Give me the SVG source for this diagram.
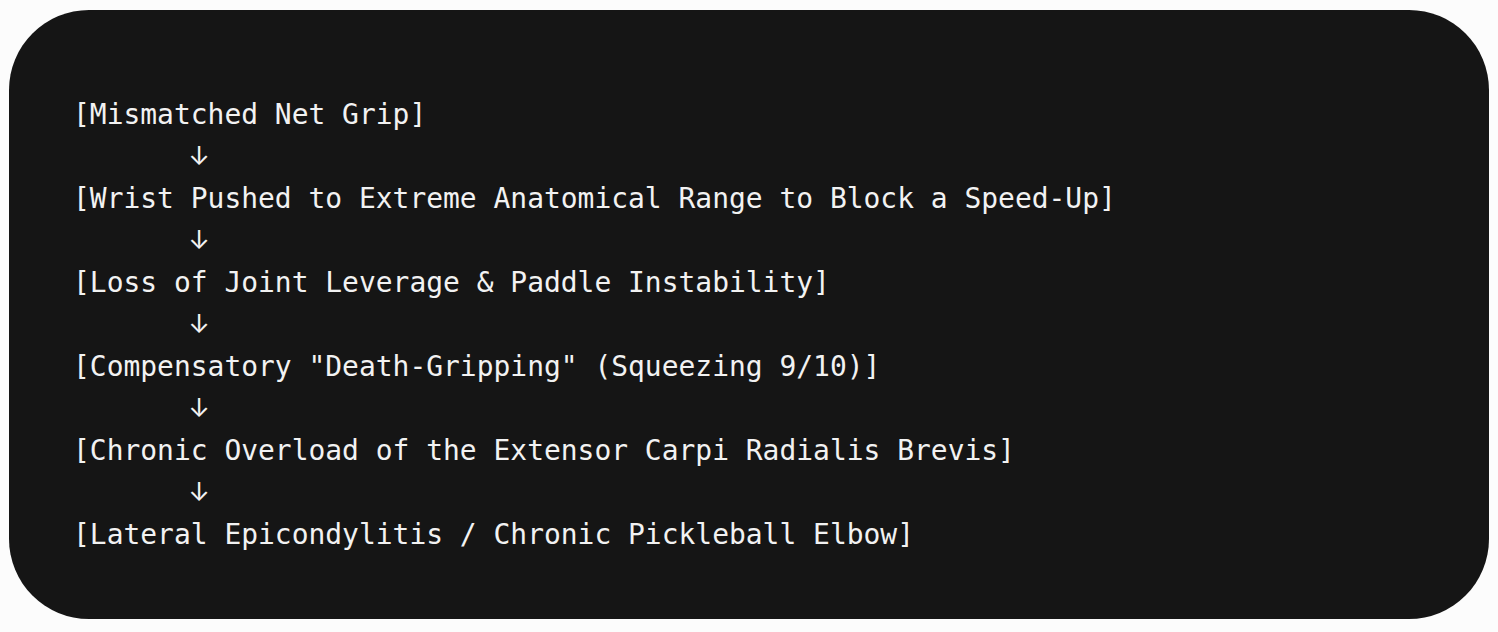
<svg xmlns="http://www.w3.org/2000/svg" width="1498" height="632" viewBox="0 0 1498 632">
<style>
.t{font-family:"DejaVu Sans Mono","Liberation Mono",monospace;font-size:27.95px;fill:#f2f2f2;white-space:pre}
.a{font-family:Inter,"DejaVu Sans",sans-serif;font-size:26px;fill:#f2f2f2;text-anchor:middle}
</style>
<rect x="0" y="0" width="1498" height="632" fill="#fcfcfc"/>
<rect x="9" y="10" width="1480" height="609" rx="80" ry="80" fill="#151515"/>
<g id="n1"><text class="t" x="73" y="124">[Mismatched Net Grip]</text></g>
<g id="n2"><text class="t" x="73" y="208">[Wrist Pushed to Extreme Anatomical Range to Block a Speed-Up]</text></g>
<g id="n3"><text class="t" x="73" y="292">[Loss of Joint Leverage &amp; Paddle Instability]</text></g>
<g id="n4"><text class="t" x="73" y="376">[Compensatory "Death-Gripping" (Squeezing 9/10)]</text></g>
<g id="n5"><text class="t" x="73" y="460">[Chronic Overload of the Extensor Carpi Radialis Brevis]</text></g>
<g id="n6"><text class="t" x="73" y="544">[Lateral Epicondylitis / Chronic Pickleball Elbow]</text></g>
<g id="connectors">
<text class="a" x="199" y="165">↓</text>
<text class="a" x="199" y="249">↓</text>
<text class="a" x="199" y="333">↓</text>
<text class="a" x="199" y="417">↓</text>
<text class="a" x="199" y="501">↓</text>
</g>
</svg>
